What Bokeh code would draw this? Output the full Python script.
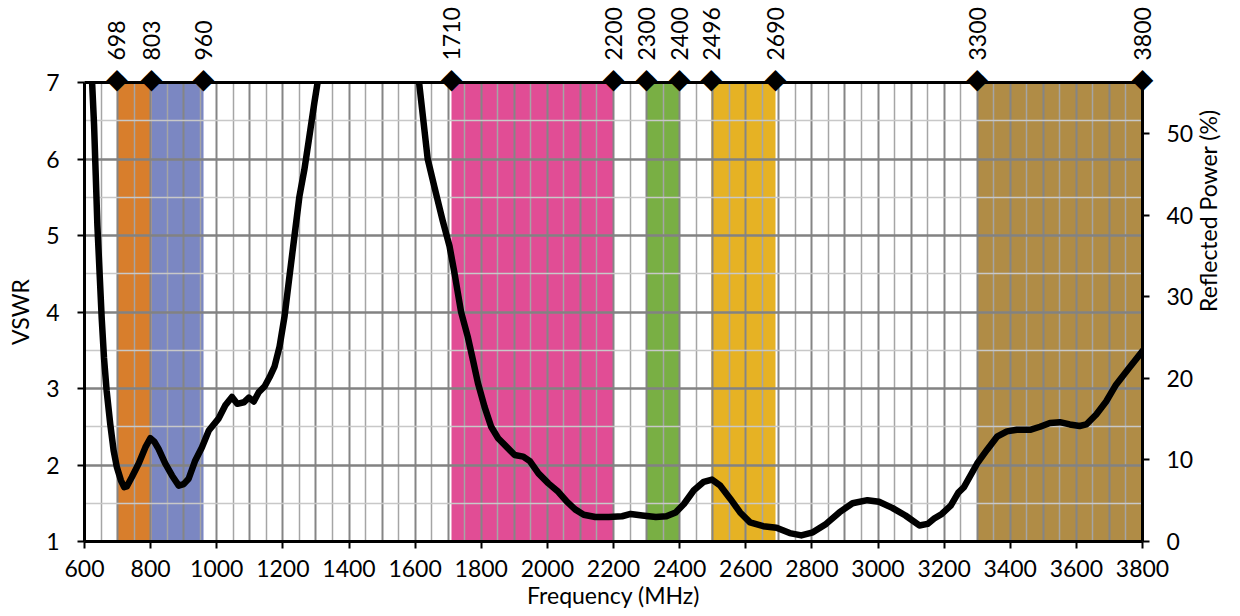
import numpy as np
from bokeh.plotting import figure
from bokeh.models import Range1d, LinearAxis, FixedTicker, Grid
from bokeh.embed import file_html
from bokeh.resources import INLINE

# ---------------- data ----------------
# low-band segment of the VSWR curve (MHz, VSWR)
freq_low = [623, 629, 634, 639, 646, 652, 659, 667, 678, 688, 698, 710, 720, 728,
            743, 764, 784, 799, 812, 824, 844, 865, 885, 900, 915, 935, 955, 976,
            1006, 1026, 1046, 1062, 1082, 1097, 1112, 1127, 1145, 1160, 1175, 1190,
            1205, 1220, 1235, 1250, 1265, 1280, 1295, 1305]
vswr_low = [7.00, 6.44, 5.79, 5.13, 4.48, 3.92, 3.40, 2.97, 2.53, 2.19, 1.97, 1.80, 1.71, 1.72,
            1.84, 2.02, 2.23, 2.35, 2.30, 2.21, 2.02, 1.86, 1.73, 1.75, 1.82, 2.06, 2.23, 2.45,
            2.61, 2.78, 2.89, 2.80, 2.82, 2.88, 2.83, 2.95, 3.03, 3.15, 3.29, 3.55,
            3.94, 4.47, 4.99, 5.51, 5.86, 6.29, 6.73, 7.00]

# high-band segment of the VSWR curve
freq_high = [1612, 1638, 1658, 1683, 1704, 1719, 1739, 1759, 1775, 1790, 1810, 1830, 1851,
             1876, 1901, 1927, 1947, 1973, 2003, 2033, 2059, 2084, 2110, 2145, 2186, 2226,
             2252, 2287, 2328, 2360, 2388, 2413, 2443, 2473, 2498, 2523, 2553, 2583, 2613,
             2653, 2693, 2733, 2768, 2803, 2843, 2883, 2923, 2968, 3003, 3043, 3083, 3125,
             3150, 3170, 3193, 3220, 3243, 3260, 3300, 3330, 3360, 3390, 3420, 3460, 3490,
             3520, 3550, 3580, 3610, 3630, 3660, 3690, 3720, 3760, 3800]
vswr_high = [7.00, 6.00, 5.64, 5.20, 4.86, 4.51, 4.00, 3.68, 3.37, 3.07, 2.76, 2.50, 2.35,
             2.24, 2.13, 2.11, 2.05, 1.89, 1.76, 1.65, 1.52, 1.42, 1.35, 1.32, 1.32, 1.33,
             1.36, 1.34, 1.32, 1.33, 1.38, 1.49, 1.67, 1.78, 1.81, 1.73, 1.56, 1.38, 1.25,
             1.20, 1.18, 1.11, 1.08, 1.12, 1.23, 1.38, 1.50, 1.54, 1.52, 1.44, 1.34, 1.21,
             1.23, 1.30, 1.36, 1.47, 1.64, 1.71, 2.02, 2.20, 2.37, 2.44, 2.46, 2.46, 2.50,
             2.55, 2.56, 2.53, 2.51, 2.53, 2.66, 2.83, 3.05, 3.27, 3.49]

# frequency bands (shaded)
band_start = [698, 803, 1710, 2300, 2496, 3300]
band_end = [803, 960, 2200, 2400, 2690, 3800]
band_colors = ["#D87E2C", "#7B87C2", "#E14D95", "#79AF44", "#E6B224", "#B08C46"]

# band edge markers / top labels
edge_ticks = [698, 803, 960, 1710, 2200, 2300, 2400, 2496, 2690, 3300, 3800]

x_ticks = list(range(600, 3801, 200))
y_ticks = [1, 2, 3, 4, 5, 6, 7]
rp_ticks = [0, 10, 20, 30, 40, 50]

X_MIN, X_MAX = 600, 3800
Y_MIN, Y_MAX = 1, 7
RP_MAX = ((Y_MAX - 1) / (Y_MAX + 1)) ** 2 * 100  # reflected power at VSWR 7

FONT = "Lato"
FS = "23px"

# ---------------- figure ----------------
p = figure(width=1240, height=616, output_backend="svg", toolbar_location=None,
           x_range=Range1d(X_MIN, X_MAX), y_range=Range1d(Y_MIN, Y_MAX),
           x_axis_type=None, y_axis_type=None,
           min_border_left=84, min_border_right=98, min_border_top=82, min_border_bottom=75)
p.outline_line_color = None
p.background_fill_color = "white"
p.extra_y_ranges = {"rp": Range1d(0, RP_MAX)}

# bands under grid
p.quad(left=band_start, right=band_end, bottom=Y_MIN, top=Y_MAX,
       fill_color=band_colors, line_color=None, level="image")

# grid
xg = Grid(dimension=0, ticker=FixedTicker(ticks=list(range(600, 3801, 100)),
                                          minor_ticks=list(range(650, 3800, 100))))
xg.grid_line_color = "#858585"
xg.grid_line_width = 2
xg.minor_grid_line_color = "#A5A5A5"
xg.minor_grid_line_width = 1.5
p.add_layout(xg)
yg = Grid(dimension=1, ticker=FixedTicker(ticks=y_ticks,
                                          minor_ticks=[1.5, 2.5, 3.5, 4.5, 5.5, 6.5]))
yg.grid_line_color = "#828282"
yg.grid_line_width = 2.5
yg.minor_grid_line_color = "#C8C8C8"
yg.minor_grid_line_width = 1.5
p.add_layout(yg)


def style_axis(ax):
    ax.axis_line_color = "black"
    ax.axis_line_width = 3
    ax.major_tick_line_color = "black"
    ax.major_tick_line_width = 2
    ax.major_tick_out = 7
    ax.major_tick_in = 0
    ax.minor_tick_line_color = None
    ax.major_label_text_font = FONT
    ax.major_label_text_font_size = FS
    ax.major_label_text_color = "black"
    ax.axis_label_text_font = FONT
    ax.axis_label_text_font_size = FS
    ax.axis_label_text_font_style = "normal"
    ax.axis_label_text_color = "black"


bottom = LinearAxis(ticker=FixedTicker(ticks=x_ticks), axis_label="Frequency (MHz)")
style_axis(bottom)
bottom.major_label_standoff = 11
bottom.axis_label_standoff = 1
p.add_layout(bottom, "below")

left = LinearAxis(ticker=FixedTicker(ticks=y_ticks), axis_label="VSWR")
style_axis(left)
left.major_label_standoff = 18
left.axis_label_standoff = 9
p.add_layout(left, "left")

right = LinearAxis(y_range_name="rp", ticker=FixedTicker(ticks=rp_ticks),
                   axis_label="Reflected Power (%)")
style_axis(right)
right.major_label_standoff = 17
right.axis_label_standoff = 12
try:
    right.axis_label_orientation = np.pi / 2
except Exception:
    pass
p.add_layout(right, "right")

# top edge: diamond markers at band edges (drawn as axis labels so they are not clipped)
diamonds = LinearAxis(ticker=FixedTicker(ticks=edge_ticks),
                      major_label_overrides={t: "\u25C6" for t in edge_ticks})
style_axis(diamonds)
diamonds.major_tick_line_color = None
diamonds.major_tick_out = 0
diamonds.major_label_text_font = "DejaVu Sans"
diamonds.major_label_text_font_size = "28px"
diamonds.major_label_orientation = "horizontal"
diamonds.major_label_standoff = -12
p.add_layout(diamonds, "above")

top = LinearAxis(ticker=FixedTicker(ticks=edge_ticks))
style_axis(top)
top.axis_line_color = None
top.major_tick_line_color = None
top.major_tick_out = 0
top.major_label_orientation = "vertical"
top.major_label_standoff = -2
p.add_layout(top, "above")

# VSWR curve
for fx, vy in ((freq_low, vswr_low), (freq_high, vswr_high)):
    p.line(fx, vy, line_color="black", line_width=6.5, line_join="round", line_cap="round")

open("out.html", "w").write(file_html(p, INLINE))
